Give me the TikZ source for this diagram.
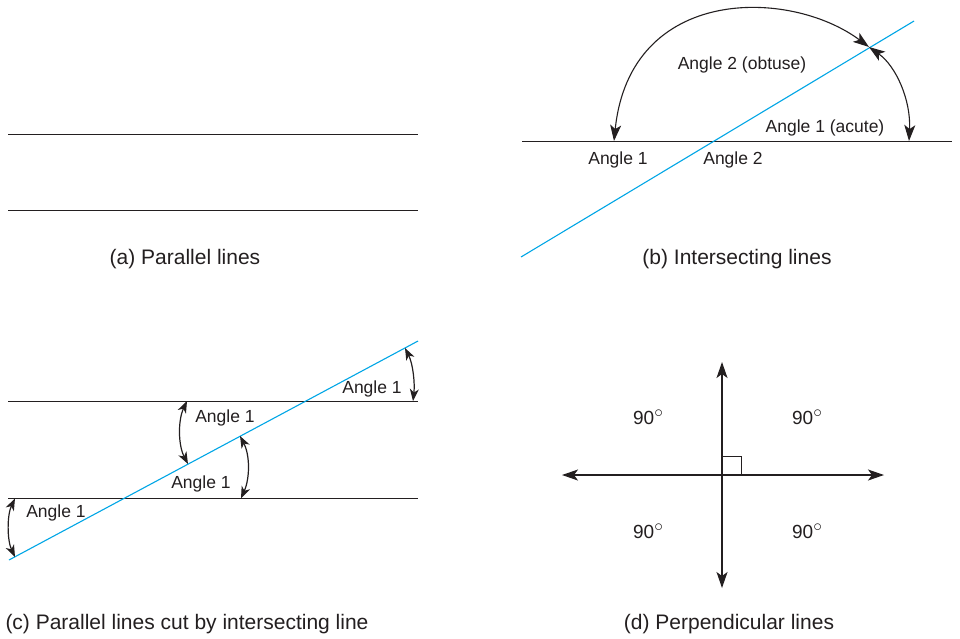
\documentclass[tikz,border=0pt]{standalone}
\usepackage{fontspec}
\setmainfont{Liberation Sans}
\usetikzlibrary{arrows.meta}
\definecolor{ink}{RGB}{35,31,32}
\definecolor{cyanline}{RGB}{0,166,230}
\newcommand{\degsym}{\raisebox{6.8pt}{\fontsize{16}{16}\selectfont$\circ$}}
\begin{document}
\begin{tikzpicture}[x=1pt,y=-1pt,
  blk/.style={draw=ink,line width=1.0pt},
  blu/.style={draw=cyanline,line width=1.1pt},
  arcarr/.style={draw=ink,line width=1.2pt,{Stealth[length=12pt,width=9pt,inset=3.5pt]}-{Stealth[length=12pt,width=9pt,inset=3.5pt]}},
  bigarr/.style={draw=ink,line width=1.2pt,{Stealth[length=16pt,width=11pt,inset=4pt]}-{Stealth[length=16pt,width=11pt,inset=4pt]}},
  lbl/.style={font=\fontsize{17.5}{20}\selectfont,text=ink,inner sep=0pt},
  deg/.style={font=\fontsize{19}{22}\selectfont,text=ink,inner sep=0pt},
  captxt/.style={font=\fontsize{21}{24}\selectfont,text=ink,inner sep=0pt}]
\useasboundingbox (0,0) rectangle (960,638);
\fill[white] (0,0) rectangle (960,638);

% (a)
\coordinate (a1l) at (8,134); \coordinate (a1r) at (418,134);
\coordinate (a2l) at (8,210); \coordinate (a2r) at (418,210);
\draw[blk] (a1l) -- (a1r);
\draw[blk] (a2l) -- (a2r);
\node[captxt] (capa) at (185,259) {(a) Parallel lines};

% (b)
\coordinate (bhl) at (522,141.5); \coordinate (bhr) at (952,141.5);
\coordinate (bbl) at (521,257); \coordinate (bbr) at (914,21);
\draw[blk] (bhl) -- (bhr);
\draw[blu] (bbl) -- (bbr);
\coordinate (bx) at (869,47);
\coordinate (bl) at (614,141);
\coordinate (br) at (909,141);
\draw[bigarr,line width=1.1pt] (bl) .. controls (630,-15) and (790,-12) .. (bx);
\draw[bigarr,line width=1.1pt] (bx) .. controls (896,66) and (911,100) .. (br);
\node[lbl] (ob) at (742,65) {Angle 2 (obtuse)};
\node[lbl] (ac) at (825,128) {Angle 1 (acute)};
\node[lbl] (b1) at (618,160) {Angle 1};
\node[lbl] (b2) at (733,160) {Angle 2};
\node[captxt] (capb) at (737,259) {(b) Intersecting lines};

% (c)
\coordinate (c1l) at (8,401); \coordinate (c1r) at (418,401);
\coordinate (c2l) at (8,498.5); \coordinate (c2r) at (418,498.5);
\coordinate (cbl) at (9,560); \coordinate (cbr) at (418,341);
\draw[blk] (c1l) -- (c1r);
\draw[blk] (c2l) -- (c2r);
\draw[blu] (cbl) -- (cbr);
\coordinate (r1a) at (405,348); \coordinate (r1b) at (413,401);
\draw[arcarr] (r1a) .. controls (413,364) and (415,383) .. (r1b);
\coordinate (r2a) at (187,401); \coordinate (r2b) at (188,464);
\draw[arcarr] (r2a) .. controls (178,420) and (178,445) .. (r2b);
\coordinate (r3a) at (240,436); \coordinate (r3b) at (241,498.5);
\draw[arcarr] (r3a) .. controls (250,455) and (250,478) .. (r3b);
\coordinate (r4a) at (15,498.5); \coordinate (r4b) at (15,557);
\draw[arcarr] (r4a) .. controls (7,515) and (7,540) .. (r4b);
\node[lbl] (cl1) at (372,389) {Angle 1};
\node[lbl] (cl2) at (225,418) {Angle 1};
\node[lbl] (cl3) at (201,484) {Angle 1};
\node[lbl] (cl4) at (56,513) {Angle 1};
\node[captxt] (capc) at (187,624) {(c) Parallel lines cut by intersecting line};

% (d)
\coordinate (dt) at (722,362); \coordinate (db) at (722,588);
\coordinate (dl) at (562,475); \coordinate (dr) at (884,475);
\draw[bigarr] (dt) -- (db);
\draw[bigarr] (dl) -- (dr);
\draw[draw=ink,line width=0.8pt] (722,456) -- (741,456) -- (741,475);
\node[deg] (d1) at (648,417) {90\degsym};
\node[deg] (d2) at (807,417) {90\degsym};
\node[deg] (d3) at (648,531) {90\degsym};
\node[deg] (d4) at (807,531) {90\degsym};
\node[captxt] (capd) at (729,624) {(d) Perpendicular lines};
\end{tikzpicture}
\end{document}
